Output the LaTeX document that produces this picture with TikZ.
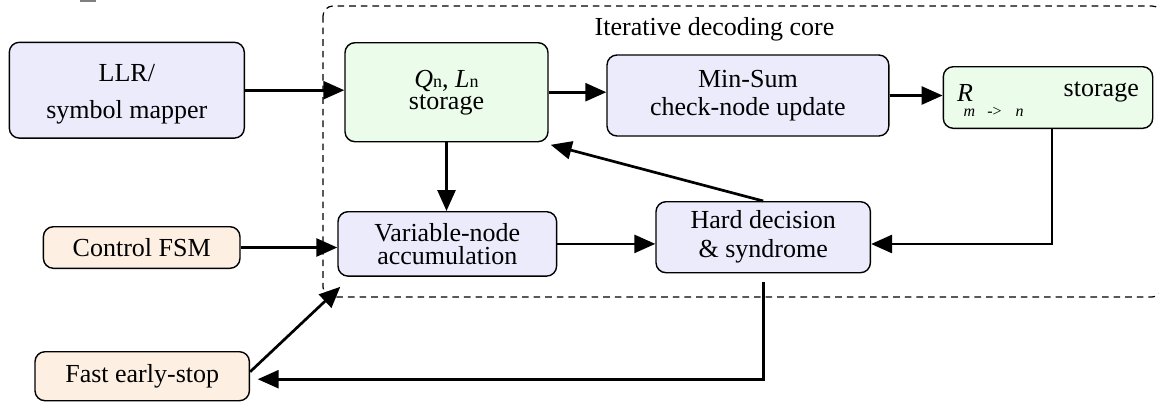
\documentclass[tikz,border=0pt]{standalone}
\usepackage{fontspec}
\setmainfont{Liberation Serif}
\newfontfamily\tnr{Liberation Serif}
\usetikzlibrary{arrows.meta}
\definecolor{lav}{RGB}{235,235,252}
\definecolor{mint}{RGB}{235,252,235}
\definecolor{peach}{RGB}{253,240,227}
\tikzset{
 blk/.style={draw=black, line width=0.7pt, rounded corners=5pt, align=center, inner sep=0pt, font=\tnr\fontsize{13}{15.6}\selectfont},
 lavbox/.style={blk, fill=lav},
 mintbox/.style={blk, fill=mint},
 peachbox/.style={blk, fill=peach},
 flow/.style={line width=1.35pt, -{Triangle[length=10.5pt,width=9pt]}},
 corebox/.style={draw, dash pattern=on 3.3pt off 2.5pt, line width=0.6pt, rounded corners=5pt},
 txt/.style={inner sep=0pt, font=\tnr\fontsize{13}{15.6}\selectfont},
}
\begin{document}
\begin{tikzpicture}[x=0.5pt,y=-0.5pt]
\useasboundingbox (0,0) rectangle (1159,402);
\fill[gray] (80,0) rectangle (96,1.5);
\draw[corebox] (323,6) rectangle (1162,297);
\node[txt, anchor=base] (title) at (714.5,35) {Iterative decoding core};
\node[lavbox, minimum width=117.5pt, minimum height=47.9pt] (llr) at (126.8,90.2) {\rule{0pt}{12.9pt}LLR/\\[3.1pt]symbol mapper};
\node[mintbox, minimum width=101.5pt, minimum height=49.5pt] (q) at (446.5,92.2) {{\itshape Q}{\fontsize{9}{9}\selectfont n}, {\itshape L}{\fontsize{9}{9}\selectfont n}\\[-4.6pt]storage};
\node[lavbox, minimum width=140.9pt, minimum height=40.5pt] (ms) at (747.9,95.5) {Min-Sum\\[-1.4pt]check-node update};
\node[mintbox, minimum width=104.7pt, minimum height=30.8pt] (r) at (1048,97.5) {};
\node[txt, font=\tnr\fontsize{13}{15}\selectfont\itshape, anchor=base west] (rsym) at (956.7,101.7) {R};
\node[txt, font=\tnr\fontsize{8}{8}\selectfont, anchor=base west] (rsub) at (963.3,116) {\itshape m\hspace{6pt}\upshape-\textgreater\hspace{7pt}\itshape n};
\node[txt, anchor=base west] (rst) at (1063.3,96.7) {storage};
\node[peachbox, minimum width=98.3pt, minimum height=20.8pt] (ctl) at (141.7,247.5) {Control FSM};
\node[lavbox, minimum width=109.3pt, minimum height=32.2pt] (var) at (447.3,243.9) {Variable-node\\[-3.9pt]accumulation};
\node[lavbox, minimum width=107.2pt, minimum height=35.5pt] (hd) at (763.2,237.2) {Hard decision\\[-1.1pt]\& syndrome};
\node[peachbox, minimum width=107.2pt, minimum height=24.5pt] (fast) at (142.2,376.2) {Fast early-stop};

\draw[flow] (llr.east) -- (llr.east -| q.west);
\draw[flow] (q.east) -- (q.east -| ms.west);
\draw[flow] (ms.east) -- (ms.east -| r.west);
\draw[flow] (q.south) -- (q.south |- var.north);
\draw[flow] (ctl.east) -- (ctl.east -| var.west);
\draw[flow] (var.east) -- (var.east -| hd.west);
\draw[flow] ([xshift=2pt]r.south) |- ([yshift=-3.4pt]hd.east);
\draw[flow, shorten >=3.8pt] ([yshift=-4.5pt]hd.south) |- ([yshift=-1.5pt]fast.east);
\draw[flow] (hd.north) -- ([xshift=1pt,yshift=-1.2pt]q.south east);
\draw[flow] ([yshift=2.2pt]fast.east) -- ([xshift=1.5pt,yshift=-5pt]var.south west);
\end{tikzpicture}
\end{document}
